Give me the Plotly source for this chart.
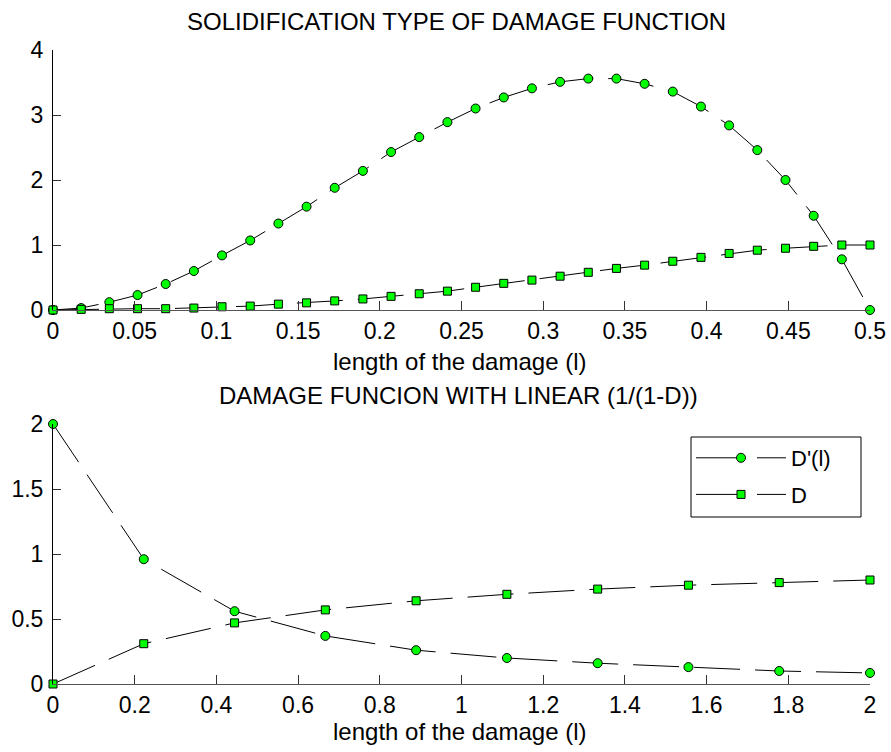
import plotly.graph_objects as go

# ---- data: solidification type damage function (top panel) ----
l_top = [i * 0.5 / 29 for i in range(30)]
dprime_top = [0.0, 0.03, 0.12, 0.23, 0.40, 0.60, 0.84, 1.07, 1.33, 1.59,
              1.88, 2.14, 2.43, 2.66, 2.89, 3.10, 3.27, 3.41, 3.51, 3.56,
              3.56, 3.48, 3.36, 3.13, 2.84, 2.46, 2.00, 1.45, 0.78, 0.0]
d_top = [0.0, 0.01, 0.02, 0.02, 0.02, 0.03, 0.05, 0.06, 0.09, 0.11,
         0.14, 0.17, 0.21, 0.25, 0.29, 0.35, 0.41, 0.46, 0.52, 0.58,
         0.64, 0.69, 0.75, 0.81, 0.87, 0.92, 0.95, 0.98, 1.0, 1.0]

# ---- data: damage function with linear (1/(1-D)) (bottom panel) ----
l_bot = [i * 2 / 9 for i in range(10)]
dprime_bot = [2.0, 0.96, 0.56, 0.37, 0.26, 0.20, 0.16, 0.13, 0.10, 0.085]
d_bot = [0.0, 0.31, 0.47, 0.57, 0.64, 0.69, 0.73, 0.76, 0.78, 0.80]

xt_top = [0, 0.05, 0.1, 0.15, 0.2, 0.25, 0.3, 0.35, 0.4, 0.45, 0.5]
xt_top_txt = ["0", "0.05", "0.1", "0.15", "0.2", "0.25", "0.3", "0.35", "0.4", "0.45", "0.5"]
yt_top = [0, 1, 2, 3, 4]
xt_bot = [0, 0.2, 0.4, 0.6, 0.8, 1, 1.2, 1.4, 1.6, 1.8, 2]
xt_bot_txt = ["0", "0.2", "0.4", "0.6", "0.8", "1", "1.2", "1.4", "1.6", "1.8", "2"]
yt_bot = [0, 0.5, 1, 1.5, 2]
yt_bot_txt = ["0", "0.5", "1", "1.5", "2"]

W, H = 891, 752
FONT = "Liberation Sans, Arial, sans-serif"
GREEN = "#00ff00"
DASH = "46px,15px"

line_style = dict(color="black", width=1, dash=DASH)


def mk(x, y, symbol, size, name, xa, ya, show):
    return go.Scatter(
        x=x, y=y, mode="lines+markers", name=name, legendgroup=name,
        line=line_style,
        marker=dict(symbol=symbol, size=size, color=GREEN,
                    line=dict(color="black", width=1)),
        xaxis=xa, yaxis=ya, showlegend=show, cliponaxis=False,
    )


fig = go.Figure()
fig.add_trace(mk(l_top, dprime_top, "circle", 9, "D'(l)", "x", "y", False))
fig.add_trace(mk(l_top, d_top, "square", 8, "D", "x", "y", False))
fig.add_trace(mk(l_bot, dprime_bot, "circle", 9, "D'(l)", "x2", "y2", True))
fig.add_trace(mk(l_bot, d_bot, "square", 8, "D", "x2", "y2", True))

# plot-area placement in pixels
x0, x1 = 53, 870
top_t, top_b = 50, 310
bot_t, bot_b = 424, 684


def px_x(p):
    return p / W


def px_y(p):
    return 1 - p / H


xdom = [px_x(x0), px_x(x1)]

common_x = dict(showgrid=False, zeroline=False, showline=True, linecolor="#555555",
                linewidth=1, ticks="inside", ticklen=9, tickcolor="#333333",
                tickfont=dict(size=23, color="black", family=FONT),
                mirror=False, ticklabelstandoff=0)
common_y = dict(showgrid=False, zeroline=False, showline=True, linecolor="black",
                linewidth=1, ticks="inside", ticklen=8, tickcolor="#333333",
                tickfont=dict(size=23, color="black", family=FONT),
                mirror=False, ticklabelstandoff=4)

# legend frame in pixels
lg_l, lg_r, lg_t, lg_b = 691, 861, 437, 517

fig.update_layout(
    width=W, height=H,
    margin=dict(l=0, r=0, t=0, b=0, autoexpand=False),
    paper_bgcolor="white", plot_bgcolor="white",
    font=dict(family=FONT, color="black"),
    xaxis=dict(domain=xdom, range=[0, 0.5], tickvals=xt_top, ticktext=xt_top_txt,
               anchor="y", **common_x),
    yaxis=dict(domain=[px_y(top_b), px_y(top_t)], range=[0, 4], tickvals=yt_top,
               anchor="x", **common_y),
    xaxis2=dict(domain=xdom, range=[0, 2], tickvals=xt_bot, ticktext=xt_bot_txt,
                anchor="y2", **common_x),
    yaxis2=dict(domain=[px_y(bot_b), px_y(bot_t)], range=[0, 2], tickvals=yt_bot,
                ticktext=yt_bot_txt, anchor="x2", **common_y),
    legend=dict(x=px_x(lg_l), y=px_y(lg_t), xanchor="left", yanchor="top",
                bgcolor="rgba(0,0,0,0)", borderwidth=0,
                font=dict(size=22, family=FONT, color="black"),
                itemwidth=90, tracegroupgap=5),
    showlegend=True,
)

# white framed box behind the legend entries
fig.add_shape(type="rect", xref="paper", yref="paper",
              x0=px_x(lg_l), x1=px_x(lg_r), y0=px_y(lg_b), y1=px_y(lg_t),
              fillcolor="white", line=dict(color="black", width=1), layer="above")

annots = [
    ("SOLIDIFICATION TYPE OF DAMAGE FUNCTION", 456, 21, 24),
    ("length of the damage (l)", 460, 361, 24),
    ("DAMAGE FUNCION WITH LINEAR (1/(1-D))", 458, 395, 24),
    ("length of the damage (l)", 460, 731, 24),
]
for text, xpx, ypx, size in annots:
    fig.add_annotation(text=text, x=px_x(xpx), y=px_y(ypx), xref="paper", yref="paper",
                       xanchor="center", yanchor="middle", showarrow=False,
                       font=dict(size=size, family=FONT, color="black"))

fig.write_html("out.html")
